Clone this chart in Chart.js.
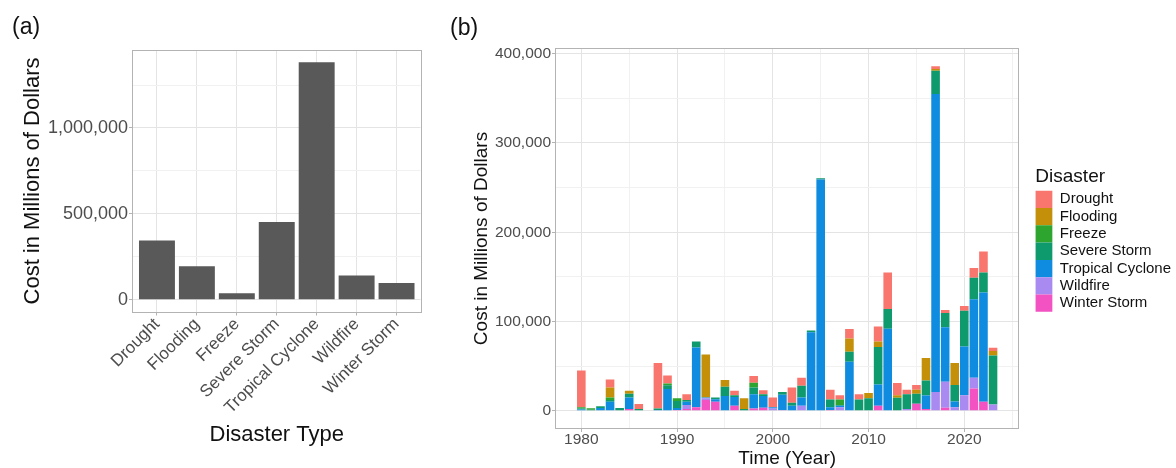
<!DOCTYPE html>
<html>
<head>
<meta charset="utf-8">
<script src="https://cdn.jsdelivr.net/npm/chart.js@4.4.1/dist/chart.umd.min.js"></script>
<style>
  html, body { margin: 0; padding: 0; background: #fff; }
  #wrap { position: relative; width: 1176px; height: 468px; overflow: hidden; }
  canvas { position: absolute; top: 0; }
  #typeChart { left: 0; }
  #yearChart { left: 440px; }
</style>
</head>
<body>
<div id="wrap">
  <canvas id="typeChart" width="440" height="468"></canvas>
  <canvas id="yearChart" width="736" height="468"></canvas>
</div>
<script>
// (a) total cost per disaster type, millions of dollars
const disasterTypes = ['Drought', 'Flooding', 'Freeze', 'Severe Storm', 'Tropical Cyclone', 'Wildfire', 'Winter Storm'];
const totalCost = [345000, 194000, 37000, 452000, 1382000, 141000, 97000];
const typeTicks = [0, 250000, 500000, 750000, 1000000, 1250000];
const typeLabelled = [0, 500000, 1000000];

// (b) cost per year, stacked by disaster type, millions of dollars
const years = [1980, 1981, 1982, 1983, 1984, 1985, 1986, 1987, 1988, 1989,
               1990, 1991, 1992, 1993, 1994, 1995, 1996, 1997, 1998, 1999,
               2000, 2001, 2002, 2003, 2004, 2005, 2006, 2007, 2008, 2009,
               2010, 2011, 2012, 2013, 2014, 2015, 2016, 2017, 2018, 2019,
               2020, 2021, 2022, 2023];
const drought  = [41000, 0, 0, 9000, 0, 0, 5500, 0, 51000, 9000,
                  0, 6500, 0, 0, 0, 0, 5000, 0, 7500, 4500,
                  11000, 0, 17000, 9000, 0, 0, 11000, 5000, 10500, 6000,
                  0, 17000, 41000, 13500, 5000, 5500, 0, 3000, 3500, 0,
                  5500, 11000, 23500, 3500];
const flooding = [0, 0, 0, 11000, 0, 3500, 0, 0, 0, 0,
                  0, 0, 0, 48000, 0, 7500, 0, 12000, 0, 0,
                  0, 0, 0, 0, 0, 0, 0, 0, 15000, 0,
                  6000, 6000, 0, 3000, 0, 4500, 25000, 2000, 0, 24500,
                  0, 0, 0, 5000];
const freeze   = [1500, 1500, 0, 3000, 0, 0, 0, 0, 0, 2000,
                  3000, 0, 0, 0, 0, 0, 0, 0, 5500, 0,
                  0, 0, 0, 0, 0, 0, 0, 6000, 0, 0,
                  0, 0, 0, 0, 0, 0, 0, 0, 0, 0,
                  0, 0, 0, 0];
const severeStorm = [1000, 1200, 2000, 2000, 3000, 4000, 2000, 0, 1500, 4000,
                     8000, 2000, 6500, 0, 2000, 10500, 2000, 2000, 7500, 2000,
                     0, 3000, 3500, 13000, 2000, 1500, 8500, 1000, 11000, 12500,
                     14000, 42000, 22000, 14000, 16500, 11000, 17000, 26000, 16000, 18500,
                     40000, 24000, 22500, 55000];
const tropicalCyclone = [1500, 0, 3000, 10000, 0, 13000, 0, 0, 1000, 24000,
                         2000, 3500, 67000, 1000, 3000, 16500, 10000, 0, 16000, 13000,
                         1500, 17000, 5000, 9500, 88000, 259000, 3000, 1500, 55000, 0,
                         0, 24000, 92000, 0, 0, 0, 15000, 334000, 61000, 6500,
                         54500, 88000, 122500, 0];
const wildfire = [0, 0, 0, 0, 0, 0, 0, 0, 0, 0,
                  0, 4500, 0, 2000, 0, 0, 0, 0, 0, 0,
                  2000, 1000, 500, 5500, 0, 0, 0, 3500, 0, 0,
                  0, 0, 0, 0, 2000, 0, 0, 21000, 29000, 3500,
                  17500, 12000, 0, 7000];
const winterStorm = [0, 0, 0, 0, 0, 2000, 0, 0, 0, 500,
                     1000, 2000, 4000, 12000, 10000, 0, 5500, 0, 2500, 3500,
                     500, 0, 0, 0, 0, 0, 1000, 500, 0, 0,
                     0, 5500, 0, 500, 0, 8000, 2000, 0, 3500, 500,
                     0, 25000, 10000, 0];
const yearTicks = [1980, 1985, 1990, 1995, 2000, 2005, 2010, 2015, 2020, 2025];
const costTicks = [0, 50000, 100000, 150000, 200000, 250000, 300000, 350000, 400000];

const seriesByType = [drought, flooding, freeze, severeStorm, tropicalCyclone, wildfire, winterStorm];
const typeColors = ['#F8766D', '#C4900A', '#2EA52E', '#0F9A6E', '#0F8BE0', '#A98AF0', '#F252C2'];

const FONT = "'Liberation Sans', Arial, Helvetica, sans-serif";
Chart.defaults.font.family = FONT;
Chart.defaults.animation = false;

const GRID_MAJOR = '#e4e4e4';
const GRID_MINOR = '#f1f1f1';
const TICK_MARK = '#b3b3b3';
const TICK_TEXT = '#4d4d4d';
const NONE = 'rgba(0,0,0,0)';
const fmt = v => v.toLocaleString('en-US');

// major/minor styling helper for scriptable grid options
const byTick = (isMajor, major, minor) => c => (c.tick && isMajor(c.tick.value)) ? major : minor;

// grey box round the plot panel, drawn over the bars like ggplot
const panelBorder = {
  id: 'panelBorder',
  afterDatasetsDraw(chart) {
    const { ctx, chartArea: a } = chart;
    ctx.save();
    ctx.strokeStyle = '#b3b3b3';
    ctx.lineWidth = 1;
    const l = Math.round(a.left) - 0.5, t = Math.round(a.top) - 0.5;
    ctx.strokeRect(l, t, Math.round(a.right) - Math.round(a.left) + 1, Math.round(a.bottom) - Math.round(a.top) + 1);
    ctx.restore();
  }
};

// "(a)" / "(b)" panel tag
const panelTag = {
  id: 'panelTag',
  afterDraw(chart, args, opts) {
    const ctx = chart.ctx;
    ctx.save();
    ctx.font = '23px ' + FONT;
    ctx.fillStyle = '#111';
    ctx.textBaseline = 'middle';
    ctx.fillText(opts.text, opts.x, opts.y);
    ctx.restore();
  }
};

// ---------- (a) ----------
const maxType = Math.max(...totalCost);
new Chart(document.getElementById('typeChart'), {
  type: 'bar',
  data: {
    datasets: [{
      data: totalCost.map((v, i) => ({ x: i, y: v })),
      backgroundColor: '#595959',
      borderWidth: 0,
      barPercentage: 0.9,
      categoryPercentage: 1
    }]
  },
  options: {
    responsive: false,
    layout: { padding: { left: 0, right: 19.5, top: 50.5, bottom: 0 } },
    plugins: {
      legend: { display: false },
      tooltip: { enabled: false },
      panelTag: { text: '(a)', x: 12, y: 28 }
    },
    scales: {
      x: {
        type: 'linear',
        offset: false,
        min: -0.6,
        max: disasterTypes.length - 0.4,
        afterBuildTicks: axis => { axis.ticks = disasterTypes.map((c, i) => ({ value: i })); },
        afterFit: s => { s.height = 156.5; },
        grid: { offset: false, color: GRID_MAJOR, lineWidth: 1, tickColor: TICK_MARK, tickLength: 4 },
        border: { display: false },
        ticks: {
          autoSkip: false, minRotation: 45, maxRotation: 45, padding: 0,
          color: TICK_TEXT, font: { size: 17, lineHeight: 1 },
          callback: v => disasterTypes[v]
        },
        title: { display: true, text: 'Disaster Type', color: '#111', font: { size: 22, lineHeight: 1 }, padding: { top: 0, bottom: 22 } }
      },
      y: {
        type: 'linear',
        min: -0.05 * maxType,
        max: 1.05 * maxType,
        afterBuildTicks: axis => { axis.ticks = typeTicks.map(v => ({ value: v })); },
        afterFit: s => { s.width = 133; },
        grid: {
          color: byTick(v => typeLabelled.includes(v), GRID_MAJOR, GRID_MINOR),
          tickColor: byTick(v => typeLabelled.includes(v), TICK_MARK, NONE),
          lineWidth: 1, tickLength: 4
        },
        border: { display: false },
        ticks: {
          autoSkip: false, padding: 1, color: TICK_TEXT, font: { size: 18 },
          callback: v => typeLabelled.includes(v) ? fmt(v) : ''
        },
        title: { display: true, text: 'Cost in Millions of Dollars', color: '#111', font: { size: 22, lineHeight: 1 }, padding: { top: 22, bottom: 0 } }
      }
    }
  },
  plugins: [panelBorder, panelTag]
});

// ---------- (b) ----------
const yearTotals = years.map((y, i) => seriesByType.reduce((s, arr) => s + arr[i], 0));
const maxYear = Math.max(...yearTotals);
const xSpan = (years[years.length - 1] + 0.45) - (years[0] - 0.45);

new Chart(document.getElementById('yearChart'), {
  type: 'bar',
  data: {
    datasets: disasterTypes.map((name, k) => ({
      label: name,
      data: years.map((yr, i) => ({ x: yr, y: seriesByType[k][i] })),
      backgroundColor: typeColors[k],
      borderColor: typeColors[k],
      borderWidth: 0,
      barPercentage: 0.9,
      categoryPercentage: 1,
      order: disasterTypes.length - 1 - k   // ggplot puts the first level on top of the stack
    }))
  },
  options: {
    responsive: false,
    layout: { padding: { left: 0, right: -5, top: 49, bottom: 0 } },
    plugins: {
      tooltip: { enabled: false },
      panelTag: { text: '(b)', x: 10, y: 29 },
      legend: {
        position: 'right',
        align: 'start',
        maxWidth: 170,
        title: {
          display: true, text: 'Disaster', position: 'start', color: '#111',
          font: { size: 19 }, padding: { top: 118.5, bottom: 0.4 }
        },
        labels: {
          boxWidth: 17, boxHeight: 17.3, padding: 0, color: '#111', font: { size: 15 },
          sort: (a, b) => a.datasetIndex - b.datasetIndex
        }
      }
    },
    scales: {
      x: {
        type: 'linear',
        stacked: true,
        offset: false,
        min: years[0] - 0.45 - 0.05 * xSpan,
        max: years[years.length - 1] + 0.45 + 0.05 * xSpan,
        afterBuildTicks: axis => { axis.ticks = yearTicks.map(v => ({ value: v })); },
        afterFit: s => { s.height = 40; },
        grid: {
          offset: false,
          color: byTick(v => v % 10 === 0, GRID_MAJOR, GRID_MINOR),
          tickColor: byTick(v => v % 10 === 0, TICK_MARK, NONE),
          lineWidth: 1, tickLength: 4
        },
        border: { display: false },
        ticks: {
          autoSkip: false, maxRotation: 0, padding: 0, color: TICK_TEXT, font: { size: 15.5, lineHeight: 1 },
          callback: v => v % 10 === 0 ? String(v) : ''
        },
        title: { display: true, text: 'Time (Year)', color: '#111', font: { size: 19, lineHeight: 1 }, padding: { top: 0, bottom: 0 } }
      },
      y: {
        type: 'linear',
        stacked: true,
        min: -0.05 * maxYear,
        max: 1.05 * maxYear,
        afterBuildTicks: axis => { axis.ticks = costTicks.map(v => ({ value: v })); },
        afterFit: s => { s.width = 116; },
        grid: {
          color: byTick(v => v % 100000 === 0, GRID_MAJOR, GRID_MINOR),
          tickColor: byTick(v => v % 100000 === 0, TICK_MARK, NONE),
          lineWidth: 1, tickLength: 4
        },
        border: { display: false },
        ticks: {
          autoSkip: false, padding: 1, color: TICK_TEXT, font: { size: 15.5 },
          callback: v => v % 100000 === 0 ? fmt(v) : ''
        },
        title: { display: true, text: 'Cost in Millions of Dollars', color: '#111', font: { size: 19, lineHeight: 1 }, padding: { top: 32, bottom: 0 } }
      },
      // empty strip between the panel and the legend
      gap: {
        type: 'linear',
        position: 'right',
        display: true,
        grid: { display: false },
        border: { display: false },
        ticks: { display: false },
        afterFit: s => { s.width = 17; }
      }
    }
  },
  plugins: [panelBorder, panelTag]
});
</script>
</body>
</html>
